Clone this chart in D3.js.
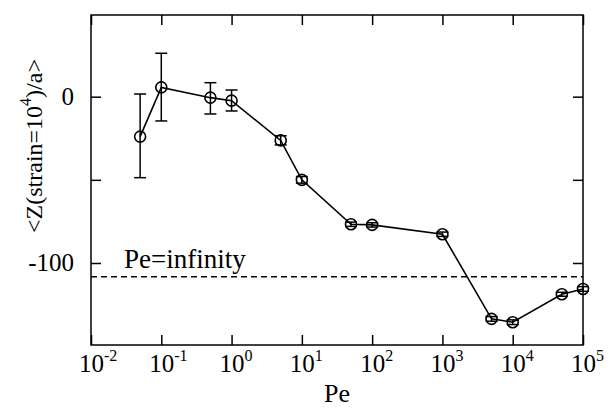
<!DOCTYPE html>
<html>
<head>
<meta charset="utf-8">
<script src="https://cdn.jsdelivr.net/npm/d3@7/dist/d3.min.js"></script>
<style>
  html, body { margin: 0; padding: 0; background: #fff; }
</style>
</head>
<body>
<svg id="chart" width="611" height="412"></svg>
<script>
// ---- data ----
const pe      = [0.05, 0.1, 0.5, 1, 5, 10, 50, 100, 1000, 5000, 10000, 50000, 100000];
const zMean   = [-24.0, 5.6, -0.6, -2.4, -26.3, -50.0, -76.7, -77.1, -82.7, -133.6, -135.6, -118.8, -115.6];
const zLow    = [-48.7, -14.6, -10.4, -8.6, -29.0, -52.0, -78.0, -78.4, -84.0, -135.0, -137.0, -120.0, -117.0];
const zHigh   = [1.6, 26.1, 8.4, 4.0, -23.5, -48.0, -75.4, -75.8, -81.4, -132.2, -134.2, -117.6, -114.2];
const peInfinity = -108.2;
const xTicks  = [1e-2, 1e-1, 1e0, 1e1, 1e2, 1e3, 1e4, 1e5];
const yTicks  = [0, -50, -100];
const yTickLabels = ["0", "", "-100"];

// ---- layout ----
const L = 91, R = 583, T = 15, B = 345;
const svg = d3.select("#chart");

const x = d3.scaleLog().domain([1e-2, 1e5]).range([L, R]);
const y = d3.scaleLinear().domain([-149.3, 49.1]).range([B, T]);

const tickLen = 10;
svg.append("rect").attr("x", L).attr("y", T).attr("width", R - L).attr("height", B - T)
  .attr("fill", "none").attr("stroke", "#000").attr("stroke-width", 1.5);

const gBottom = svg.append("g").attr("transform", `translate(0,${B})`)
  .call(d3.axisBottom(x).tickValues(xTicks).tickSizeInner(-tickLen).tickSizeOuter(0).tickFormat(""));
const gTop = svg.append("g").attr("transform", `translate(0,${T})`)
  .call(d3.axisTop(x).tickValues(xTicks).tickSizeInner(-tickLen).tickSizeOuter(0).tickFormat(""));
const gLeft = svg.append("g").attr("transform", `translate(${L},0)`)
  .call(d3.axisLeft(y).tickValues(yTicks).tickSizeInner(-tickLen).tickSizeOuter(0).tickFormat(""));
const gRight = svg.append("g").attr("transform", `translate(${R},0)`)
  .call(d3.axisRight(y).tickValues(yTicks).tickSizeInner(-tickLen).tickSizeOuter(0).tickFormat(""));
[gBottom, gTop, gLeft, gRight].forEach(g => {
  g.select(".domain").remove();
  g.selectAll(".tick line").attr("stroke", "#000").attr("stroke-width", 1.5);
});

const FONT = "Liberation Serif, DejaVu Serif, Times New Roman, Times, serif";

xTicks.forEach(v => {
  const e = Math.round(Math.log10(v));
  const t = svg.append("text").attr("x", x(v) - 12).attr("y", 372)
    .style("font-family", FONT).attr("font-size", 25);
  t.append("tspan").text("10");
  t.append("tspan").attr("dy", -11).attr("font-size", 16).text(e < 0 ? "-" + (-e) : String(e));
});

yTicks.forEach((v, i) => {
  if (!yTickLabels[i]) return;
  svg.append("text").attr("x", L - 17).attr("y", y(v) + 8)
    .attr("text-anchor", "end").style("font-family", FONT).attr("font-size", 25).text(yTickLabels[i]);
});

svg.append("text").attr("x", (L + R) / 2).attr("y", 402).attr("text-anchor", "middle")
  .style("font-family", FONT).attr("font-size", 26).text("Pe");
const yt = svg.append("text").attr("transform", "translate(42,146) rotate(-90)")
  .attr("text-anchor", "middle").style("font-family", FONT).attr("font-size", 24);
yt.append("tspan").text("<Z(strain=10");
yt.append("tspan").attr("dy", -11).attr("font-size", 16).text("4");
yt.append("tspan").attr("dy", 11).text(")/a>");

svg.append("line").attr("x1", L).attr("x2", R).attr("y1", y(peInfinity)).attr("y2", y(peInfinity))
  .attr("stroke", "#000").attr("stroke-width", 1.5).attr("stroke-dasharray", "6,4");
svg.append("text").attr("x", 124).attr("y", 268).style("font-family", FONT).attr("font-size", 27).text("Pe=infinity");

const pts = pe.map((p, i) => ({p, m: zMean[i], lo: zLow[i], hi: zHigh[i]}));
svg.append("path").datum(pts)
  .attr("fill", "none").attr("stroke", "#000").attr("stroke-width", 1.6)
  .attr("d", d3.line().x(d => x(d.p)).y(d => y(d.m)));

const eb = svg.append("g").attr("stroke", "#000").attr("stroke-width", 1.5);
pts.forEach(d => {
  const cx = x(d.p);
  eb.append("line").attr("x1", cx).attr("x2", cx).attr("y1", y(d.lo)).attr("y2", y(d.hi));
  eb.append("line").attr("x1", cx - 6).attr("x2", cx + 6).attr("y1", y(d.lo)).attr("y2", y(d.lo));
  eb.append("line").attr("x1", cx - 6).attr("x2", cx + 6).attr("y1", y(d.hi)).attr("y2", y(d.hi));
});

svg.append("g").selectAll("circle").data(pts).join("circle")
  .attr("cx", d => x(d.p)).attr("cy", d => y(d.m)).attr("r", 5.5)
  .attr("fill", "none").attr("stroke", "#000").attr("stroke-width", 1.6);
</script>
</body>
</html>
